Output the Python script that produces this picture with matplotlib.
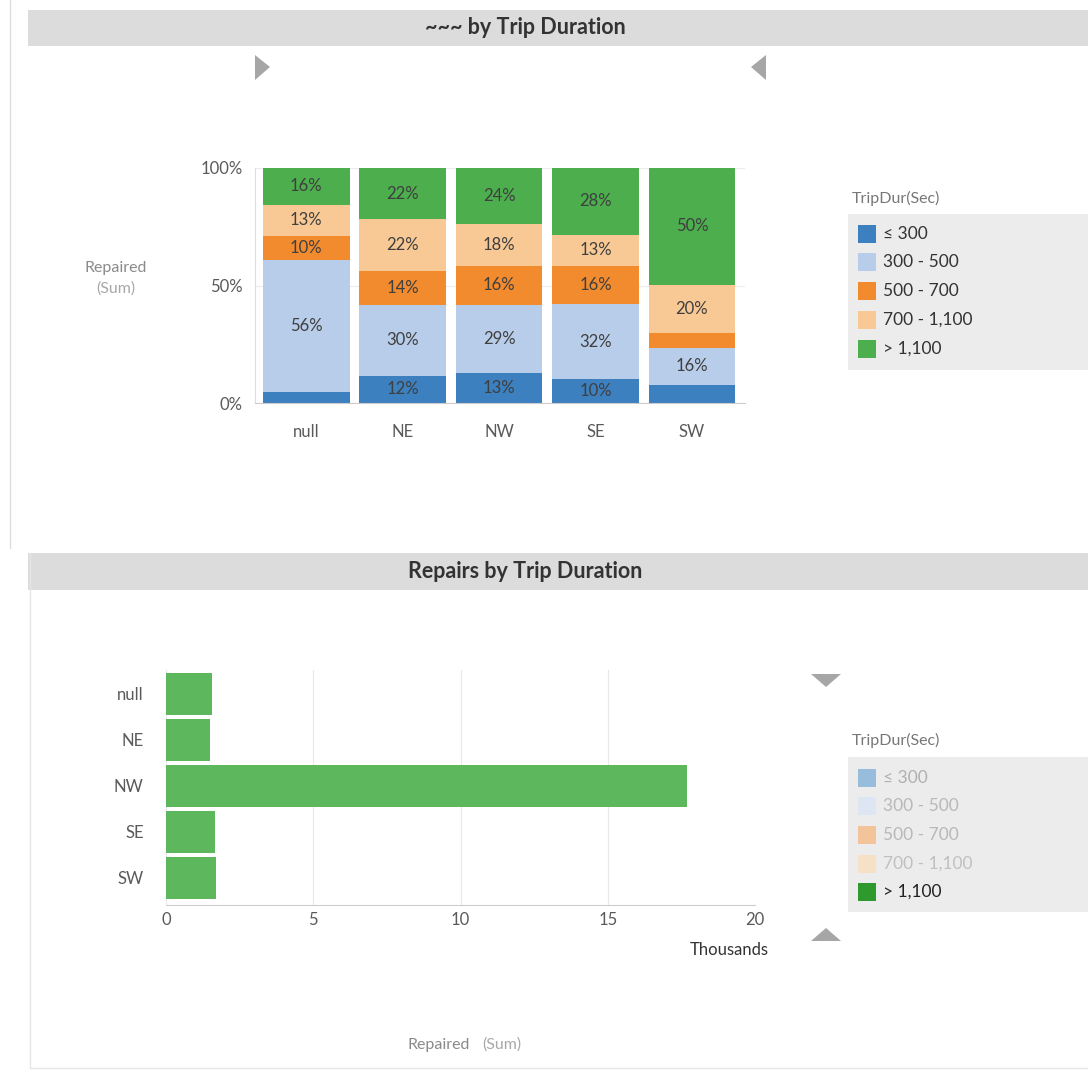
import matplotlib
matplotlib.use("Agg")
import matplotlib.pyplot as plt
from matplotlib.patches import Rectangle, Polygon
import numpy as np

plt.rcParams['font.family'] = ['Lato', 'DejaVu Sans']

# ---- data ----
regions = ["null", "NE", "NW", "SE", "SW"]
duration_bins = ["\u2264 300", "300 - 500", "500 - 700", "700 - 1,100", "> 1,100"]
# share of repaired sum per trip-duration bin (percent), one list per bin
share_le300 = [4.6, 11.6, 12.8, 10.3, 7.5]
share_300_500 = [56.2, 30.3, 29.1, 31.7, 16.1]
share_500_700 = [10.3, 14.1, 16.2, 16.2, 6.3]
share_700_1100 = [13.3, 22.2, 18.1, 13.4, 20.4]
share_gt1100 = [15.6, 21.8, 23.8, 28.4, 49.7]
# repaired sum (thousands) for trips > 1,100 s
repairs_gt1100 = [1.57, 1.50, 17.7, 1.67, 1.70]

y_ticks_top = [0, 50, 100]
y_ticklabels_top = ["0%", "50%", "100%"]
x_ticks_bottom = [0, 5, 10, 15, 20]

colors = ["#3c80c0", "#b8cde9", "#f28a2e", "#f8c994", "#4cae4c"]
faded = ["#98bcdc", "#dde6f2", "#f3c39a", "#f6e0c6", "#2e9a2e"]
bar_green = "#5db75d"

W, H = 1088, 1073
fig = plt.figure(figsize=(W / 100, H / 100), dpi=100)
fig.patch.set_facecolor("white")


def fx(px):
    return px / W


def fy(py):
    return 1 - py / H


def axes_px(left, top, right, bottom):
    return fig.add_axes([fx(left), fy(bottom), fx(right - left), (bottom - top) / H])


# ---- panel frames and headers ----
fig.add_artist(plt.Line2D([fx(10), fx(10)], [fy(0), fy(548)], color="#dddddd", lw=1))
fig.add_artist(plt.Line2D([fx(30), fx(30)], [fy(553), fy(1068)], color="#e6e6e6", lw=1))
fig.add_artist(plt.Line2D([fx(30), fx(1088)], [fy(1068), fy(1068)], color="#e6e6e6", lw=1))
for top, bot, title in [(10, 46, "~~~ by Trip Duration"), (553, 590, "Repairs by Trip Duration")]:
    fig.add_artist(Rectangle((fx(28), fy(bot)), fx(1088 - 28), (bot - top) / H,
                             transform=fig.transFigure, facecolor="#dcdcdc", edgecolor="none"))
    fig.text(fx(525), fy((top + bot) / 2), title, ha="center", va="center",
             fontsize=15.5, fontweight="bold", color="#333333")

# scroll arrows
tri_color = "#a6a6a6"
for pts in [[(255, 55), (255, 80), (270, 67)],
            [(766, 55), (766, 80), (751, 67)],
            [(811, 674), (841, 674), (826, 687)],
            [(811, 941), (841, 941), (826, 928)]]:
    fig.add_artist(Polygon([(fx(x), fy(y)) for x, y in pts], closed=True,
                           transform=fig.transFigure, facecolor=tri_color, edgecolor="none"))

# ---- top: 100% stacked columns ----
ax1 = axes_px(255, 168, 745, 403)
series = [share_le300, share_300_500, share_500_700, share_700_1100, share_gt1100]
x = np.arange(len(regions))
bottom = np.zeros(len(regions))
for vals, col in zip(series, colors):
    vals = np.array(vals)
    ax1.bar(x, vals, bottom=bottom, width=0.9, color=col, edgecolor="none")
    for xi, b, v in zip(x, bottom, vals):
        if v >= 8:
            ax1.text(xi, b + v / 2, f"{round(v):d}%", ha="center", va="center",
                     fontsize=12, color="#3f3f3f")
    bottom += vals
ax1.set_xlim(-0.53, 4.55)
ax1.set_ylim(0, 100)
ax1.set_yticks(y_ticks_top)
ax1.set_yticklabels(y_ticklabels_top)
ax1.set_xticks(x)
ax1.set_xticklabels(regions)
ax1.tick_params(length=0, labelsize=12, colors="#5a5a5a", pad=9)
ax1.tick_params(axis="x", pad=15)
for s in ["top", "right"]:
    ax1.spines[s].set_visible(False)
ax1.spines["left"].set_color("#dddddd")
ax1.spines["bottom"].set_color("#cccccc")
ax1.set_axisbelow(True)
ax1.yaxis.grid(True, color="#ececec", lw=0.8)
fig.text(fx(116), fy(268), "Repaired", ha="center", va="center", fontsize=11.5, color="#8a8a8a")
fig.text(fx(116), fy(289), "(Sum)", ha="center", va="center", fontsize=11.5, color="#a8a8a8")


def draw_legend(top_title, box_top, box_bottom, entry_ys, swatch_cols, text_cols):
    fig.text(fx(852), fy(top_title), "TripDur(Sec)", ha="left", va="center",
             fontsize=11.5, color="#777777")
    fig.add_artist(Rectangle((fx(848), fy(box_bottom)), fx(1088 - 848), (box_bottom - box_top) / H,
                             transform=fig.transFigure, facecolor="#ececec", edgecolor="none"))
    for yy, lab, sc, tc in zip(entry_ys, duration_bins, swatch_cols, text_cols):
        fig.add_artist(Rectangle((fx(858), fy(yy + 9)), fx(18), 18 / H,
                                 transform=fig.transFigure, facecolor=sc, edgecolor="none"))
        fig.text(fx(883), fy(yy), lab, ha="left", va="center", fontsize=12.5, color=tc)


draw_legend(198, 214, 370, [234, 262, 291, 320, 349], colors, ["#333333"] * 5)

# ---- bottom: horizontal bars ----
ax2 = axes_px(166, 670, 755, 905)
yy = np.arange(len(regions))
ax2.barh(yy, repairs_gt1100, height=0.9, color=bar_green, edgecolor="none")
ax2.set_ylim(4.59, -0.52)
ax2.set_xlim(0, 20)
ax2.set_xticks(x_ticks_bottom)
ax2.set_yticks(yy)
ax2.set_yticklabels(regions)
ax2.tick_params(length=0, labelsize=12, colors="#5a5a5a")
ax2.tick_params(axis="y", pad=16)
ax2.tick_params(axis="x", pad=5)
for s in ["top", "right", "left"]:
    ax2.spines[s].set_visible(False)
ax2.spines["bottom"].set_color("#cccccc")
ax2.set_axisbelow(True)
ax2.xaxis.grid(True, color="#e8e8e8", lw=0.8)
fig.text(fx(769), fy(950), "Thousands", ha="right", va="center", fontsize=12, color="#333333")
fig.text(fx(470), fy(1045), "Repaired", ha="right", va="center", fontsize=11.5, color="#8a8a8a")
fig.text(fx(482), fy(1045), "(Sum)", ha="left", va="center", fontsize=11.5, color="#a8a8a8")

draw_legend(740, 757, 912, [778, 806, 835, 864, 892], faded,
            ["#b0b0b0", "#b8b8b8", "#b8b8b8", "#c0c0c0", "#222222"])

fig.savefig("out.png", dpi=100, facecolor="white")
